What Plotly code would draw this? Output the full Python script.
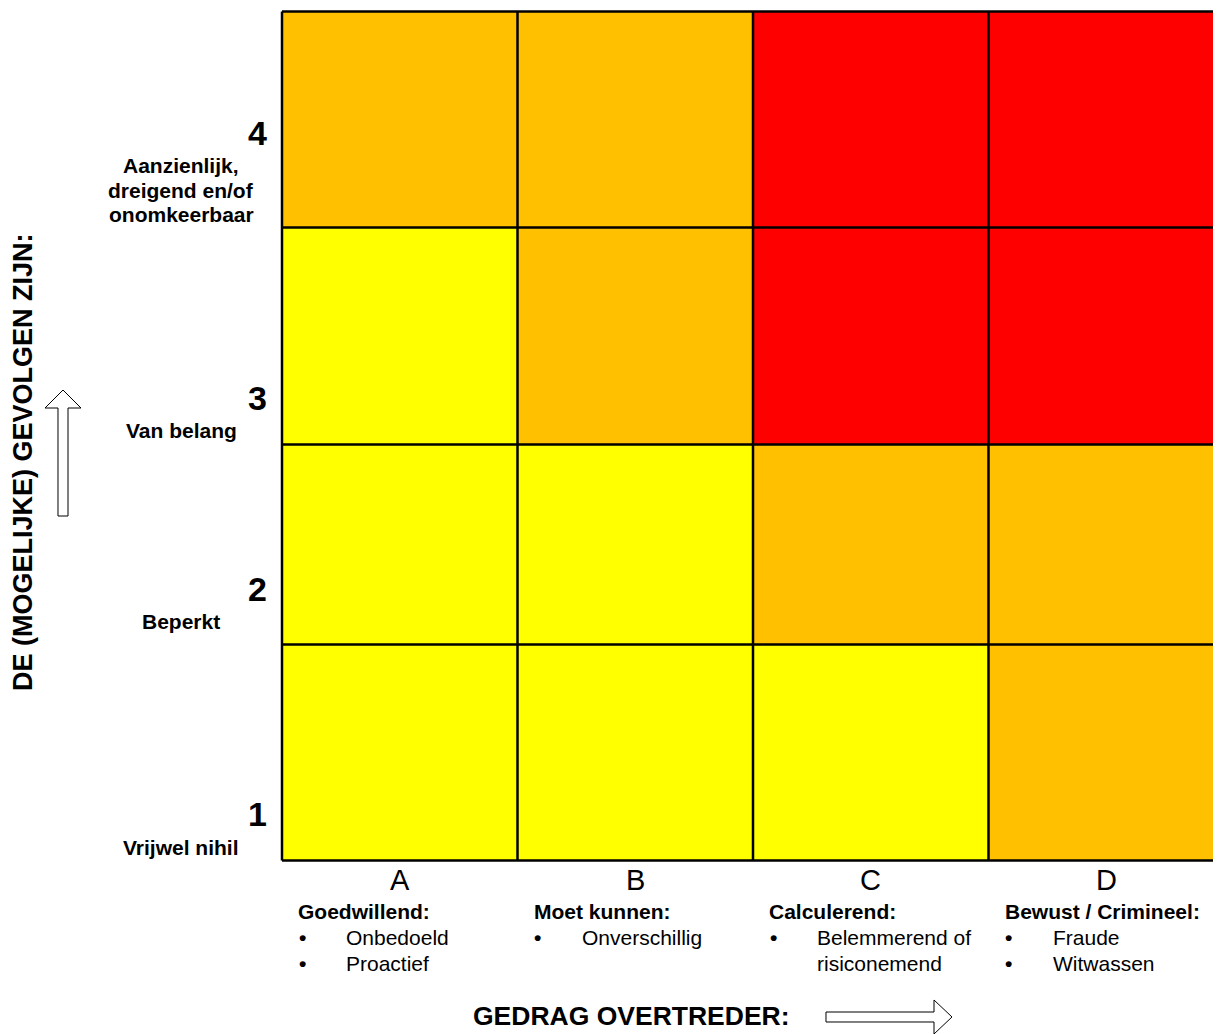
import plotly.graph_objects as go

# ---------------- data ----------------
columns = ["A", "B", "C", "D"]
column_titles = ["Goedwillend:", "Moet kunnen:", "Calculerend:", "Bewust / Crimineel:"]
column_items = [
    ["Onbedoeld", "Proactief"],
    ["Onverschillig"],
    ["Belemmerend of\nrisiconemend"],
    ["Fraude", "Witwassen"],
]
levels = ["1", "2", "3", "4"]
level_labels = ["Vrijwel nihil", "Beperkt", "Van belang", "Aanzienlijk,\ndreigend en/of\nonomkeerbaar"]
col_edges = [0, 1, 2, 3, 4]
row_edges = [0, 216, 416, 633, 849]
risk = [  # rows from level 1 (bottom) to level 4 (top), columns A..D
    [0, 0, 0, 1],
    [0, 0, 1, 1],
    [0, 1, 2, 2],
    [1, 1, 2, 2],
]
risk_colors = ["#FFFF00", "#FFC000", "#FF0000"]
y_title = "DE (MOGELIJKE) GEVOLGEN ZIJN:"
x_title = "GEDRAG OVERTREDER:"

# ---------------- layout geometry (pixels) ----------------
OFF = 8                      # page body margin of the html page
W, H = 1221 - OFF, 1034 - OFF
ML, MT = 280 - OFF, 10 - OFF  # plot area in figure pixels
PW, PH = W - ML, 852
MB = H - MT - PH
COLW = 235.5
x0r = -2 / COLW
xr = [x0r, x0r + PW / COLW]
yr = [-1.5, -1.5 + PH]

FONT = "Arial, 'Liberation Sans', sans-serif"


def px(xp):  # screen pixel -> paper x
    return (xp - OFF - ML) / PW


def py(yp):  # screen pixel -> paper y
    return (MT + PH - (yp - OFF)) / PH


fig = go.Figure()
n = len(risk_colors) - 1
fig.add_trace(go.Heatmap(
    x=col_edges, y=row_edges, z=risk,
    zmin=0, zmax=n,
    colorscale=[[i / n, c] for i, c in enumerate(risk_colors)],
    showscale=False, hoverinfo="skip",
))

shapes = []
for xe in col_edges:
    shapes.append(dict(type="line", xref="x", yref="y", x0=xe, x1=xe,
                       y0=row_edges[0], y1=row_edges[-1],
                       line=dict(color="black", width=2.5)))
for ye in row_edges:
    shapes.append(dict(type="line", xref="x", yref="y", x0=col_edges[0], x1=col_edges[-1],
                       y0=ye, y1=ye, line=dict(color="black", width=2.5)))


def path(points):
    return "M " + " L ".join(f"{px(a):.5f},{py(b):.5f}" for a, b in points) + " Z"


up_arrow = [(58, 516), (68, 516), (68, 408), (81, 408), (63, 390), (45, 408), (58, 408)]
right_arrow = [(826, 1012), (826, 1022), (934, 1022), (934, 1034), (952, 1017), (934, 1000), (934, 1012)]
for pts in (up_arrow, right_arrow):
    shapes.append(dict(type="path", xref="paper", yref="paper", path=path(pts),
                       fillcolor="white", line=dict(color="black", width=1)))

ann = []


def text(x, y, t, size, bold=False, xanchor="center", angle=0):
    ann.append(dict(xref="paper", yref="paper", x=px(x), y=py(y),
                    text=f"<b>{t}</b>" if bold else t, showarrow=False,
                    xanchor=xanchor, yanchor="middle", textangle=angle, borderpad=0,
                    font=dict(family=FONT, size=size, color="black")))


# y-axis level labels
num_y = [814, 589, 398, 133]
lab_y = [847, 622, 430, 166]
for lev, lab, ny, ly in zip(levels, level_labels, num_y, lab_y):
    text(268, ny, lev, 34, bold=True, xanchor="right")
    for k, line in enumerate(lab.split("\n")):
        text(181, ly + 24 * k, line, 21, bold=True)

# x-axis column labels
for i, (c, title, items) in enumerate(zip(columns, column_titles, column_items)):
    left = 282 + i * COLW
    text(left + COLW / 2, 880, c, 29)
    text(left + 15, 911, title, 21, bold=True, xanchor="left")
    row = 0
    for item in items:
        text(left + 20, 937 + 26 * row, "•", 21, bold=True)
        for line in item.split("\n"):
            text(left + 63, 937 + 26 * row, line, 21, xanchor="left")
            row += 1

text(23, 462, y_title, 27, bold=True, angle=-90)
text(631, 1016, x_title, 26.5, bold=True)

fig.update_layout(
    width=W, height=H,
    margin=dict(l=ML, r=0, t=MT, b=MB, pad=0),
    paper_bgcolor="white", plot_bgcolor="white",
    xaxis=dict(range=xr, visible=False, fixedrange=True),
    yaxis=dict(range=yr, visible=False, fixedrange=True),
    shapes=shapes, annotations=ann, showlegend=False,
)
fig.write_html("out.html")
